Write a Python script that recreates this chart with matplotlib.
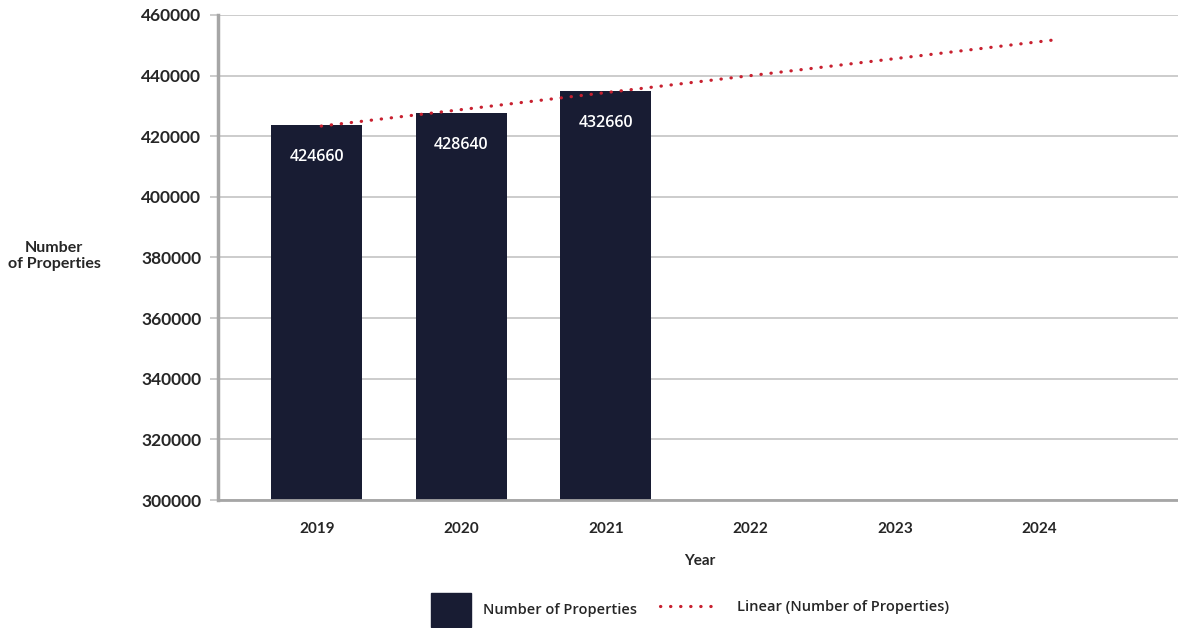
import matplotlib
matplotlib.use("Agg")
import matplotlib.pyplot as plt
import numpy as np
from matplotlib.patches import Patch
from matplotlib.lines import Line2D

# data
years = ["2019", "2020", "2021", "2022", "2023", "2024"]
bar_years = ["2019", "2020", "2021"]
bar_heights = [423700, 427700, 434900]
bar_labels = ["424660", "428640", "432660"]
y_ticks = [300000, 320000, 340000, 360000, 380000, 400000, 420000, 440000, 460000]

NAVY = "#181c33"
RED = "#c8202f"
GRID = "#c4c4c4"
TEXT = "#262626"
DOTS = (0, (0.1, 3.05))
BOLD = ["Lato", "DejaVu Sans"]

plt.rcParams["font.family"] = ["Open Sans", "DejaVu Sans"]

fig = plt.figure(figsize=(11.78, 6.28), dpi=100)
ax = fig.add_axes([0.185, 0.2038, 0.815, 0.7725])

x_all = np.arange(len(years))
x_bar = np.array([years.index(y) for y in bar_years])

ax.bar(x_bar, bar_heights, width=0.63, color=NAVY, zorder=3)
for xi, h, lab in zip(x_bar, bar_heights, bar_labels):
    ax.text(xi, h - 10500, lab, ha="center", va="center", color="white",
            fontsize=11.5, fontweight="semibold", zorder=4)

# linear trendline fitted to the bars, forecast to 2024
coef = np.polyfit(x_bar, bar_heights, 1)
xt = np.linspace(0.03, 5.12, 100)
ax.plot(xt, np.polyval(coef, xt), color=RED, linestyle=DOTS,
        linewidth=2.3, dash_capstyle="round", zorder=5)

ax.set_xlim(-0.685, 5.96)
ax.set_ylim(300000, 460000)
ax.set_yticks(y_ticks)
ax.set_yticklabels([str(v) for v in y_ticks], fontsize=12.5, fontweight="bold",
                   family=BOLD, color=TEXT)
ax.set_xticks(x_all)
ax.set_xticklabels(years, fontsize=11, fontweight="bold", family=BOLD, color=TEXT)
ax.tick_params(axis="y", length=6, width=1.2, color=GRID, pad=6)
ax.tick_params(axis="x", length=0, pad=16)
ax.grid(axis="y", color=GRID, linewidth=1.2, zorder=0)
ax.set_axisbelow(True)

for s in ["top", "right"]:
    ax.spines[s].set_visible(False)
ax.spines["left"].set_color("#a6a6a6")
ax.spines["left"].set_linewidth(2.5)
ax.spines["bottom"].set_color("#a6a6a6")
ax.spines["bottom"].set_linewidth(2)
ax.spines["bottom"].set_zorder(4)

fig.text(54 / 1178, 1 - 256 / 628, "Number\nof Properties", ha="center", va="center",
         fontsize=11.5, fontweight="bold", family=BOLD, color=TEXT, linespacing=1.15)
fig.text(700 / 1178, 1 - 561 / 628, "Year", ha="center", va="center",
         fontsize=11, fontweight="bold", family=BOLD, color=TEXT)

fig.legend(handles=[Patch(color=NAVY, label="Number of Properties")],
           loc="center left", bbox_to_anchor=(431 / 1178, 1 - 610 / 628),
           frameon=False, handlelength=2.74, handleheight=3.3, handletextpad=0.85,
           prop={"size": 10.5, "weight": "semibold"}, borderaxespad=0, borderpad=0,
           labelcolor=TEXT)
fig.legend(handles=[Line2D([], [], color=RED, linestyle=DOTS, linewidth=2.3,
                           dash_capstyle="round", label="Linear (Number of Properties)")],
           loc="center left", bbox_to_anchor=(660 / 1178, 1 - 607 / 628),
           frameon=False, handlelength=4.0, handletextpad=1.3,
           prop={"size": 10.5, "weight": "semibold"}, borderaxespad=0, borderpad=0,
           labelcolor=TEXT)

fig.savefig("out.png", dpi=100)
